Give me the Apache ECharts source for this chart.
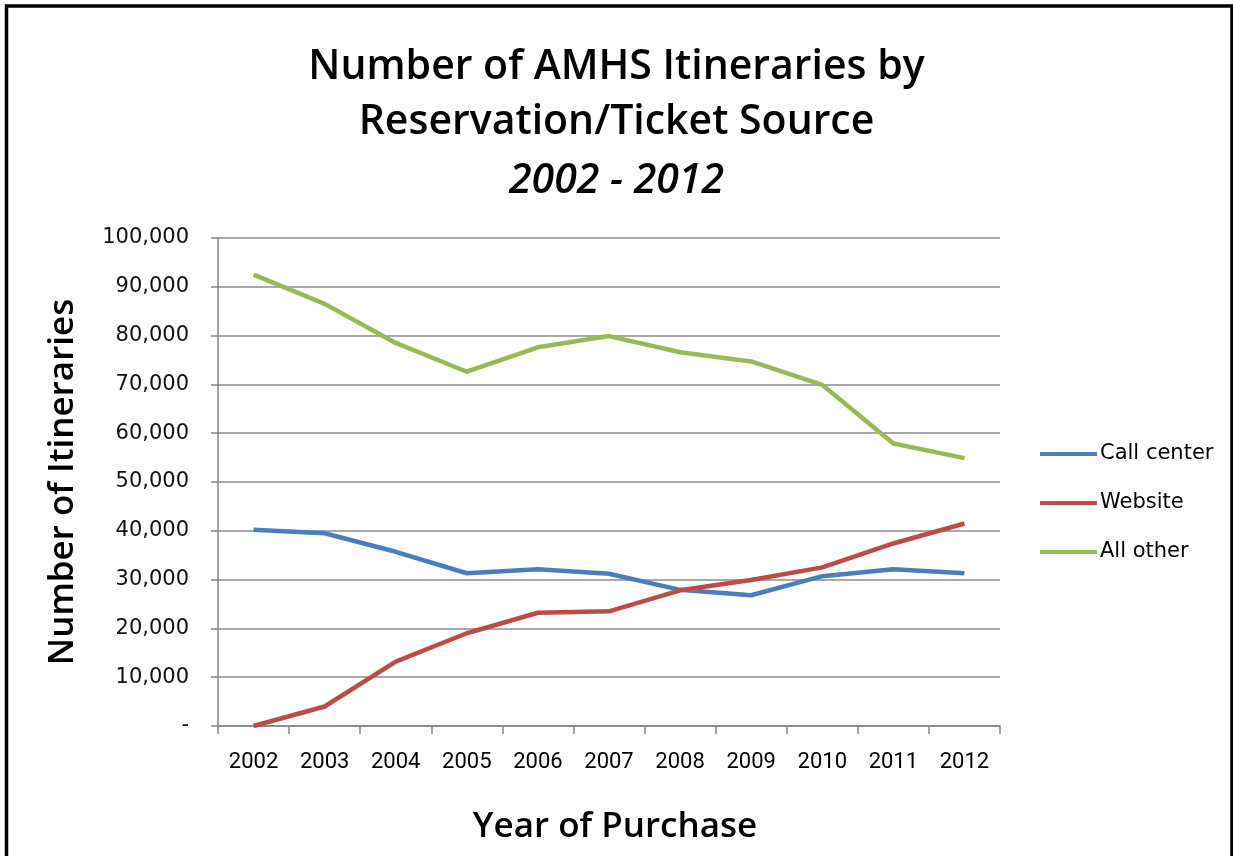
<!DOCTYPE html>
<html>
<head>
<meta charset="utf-8">
<script src="https://cdn.jsdelivr.net/npm/echarts@6/dist/echarts.min.js"></script>
<style>
html,body{margin:0;padding:0;background:#fff;}
#chart{width:1233px;height:856px;}
</style>
</head>
<body>
<div id="chart"></div>
<script>
var years = ['2002','2003','2004','2005','2006','2007','2008','2009','2010','2011','2012'];
var callCenter = [40200, 39500, 35700, 31300, 32100, 31200, 27900, 26800, 30700, 32100, 31300];
var website    = [0, 4000, 13200, 19000, 23200, 23500, 27800, 29900, 32500, 37400, 41500];
var allOther   = [92500, 86500, 78500, 72600, 77600, 79900, 76600, 74700, 69900, 57900, 54900];
var yTickLabels = ['-', '10,000', '20,000', '30,000', '40,000', '50,000', '60,000', '70,000', '80,000', '90,000', '100,000'];
var seriesNames = ['Call center', 'Website', 'All other'];

var chart = echarts.init(document.getElementById('chart'));
var titleFont = {fontFamily: 'Open Sans', fontWeight: 600, fontSize: 41, color: '#000'};
chart.setOption({
  backgroundColor: '#fff',
  animation: false,
  color: ['#4a7ebb', '#be4b48', '#98b954'],
  title: [
    {text: 'Number of AMHS Itineraries by', left: 'center', top: 42, textStyle: titleFont},
    {text: 'Reservation/Ticket Source', left: 'center', top: 97, textStyle: titleFont},
    {text: '2002 - 2012', left: 'center', top: 156, textStyle: Object.assign({}, titleFont, {fontStyle: 'italic'})}
  ],
  graphic: [{
    type: 'rect', silent: true,
    shape: {x: 6.5, y: 6, width: 1225.5, height: 900},
    style: {fill: 'none', stroke: '#000', lineWidth: 3.5}
  }],
  legend: {
    orient: 'vertical', left: 1035, top: 438,
    icon: 'rect', itemWidth: 57, itemHeight: 4, itemGap: 27,
    textStyle: {fontFamily: 'DejaVu Sans', fontSize: 21, color: '#000', lineHeight: 22, padding: [0,0,0,-2]},
    data: seriesNames
  },
  grid: {left: 218, right: 233, top: 238, bottom: 130},
  xAxis: {
    type: 'category', data: years, boundaryGap: true,
    name: 'Year of Purchase', nameLocation: 'middle', nameGap: 84,
    nameTextStyle: {fontFamily: 'Open Sans', fontWeight: 600, fontSize: 35, color: '#000', padding: [0, 0, 0, 12]},
    axisLine: {lineStyle: {color: '#868686', width: 1.5}},
    axisTick: {show: true, length: 8, lineStyle: {color: '#868686', width: 1.5}},
    axisLabel: {fontFamily: 'Roboto', fontSize: 22, color: '#000', margin: 25}
  },
  yAxis: {
    type: 'value', min: 0, max: 100000, interval: 10000,
    name: 'Number of Itineraries', nameLocation: 'middle', nameGap: 137, nameRotate: 90,
    nameTextStyle: {fontFamily: 'Open Sans', fontWeight: 600, fontSize: 35, color: '#000'},
    axisLine: {show: true, lineStyle: {color: '#868686', width: 1.5}},
    axisTick: {show: true, length: 7, lineStyle: {color: '#868686', width: 1.5}},
    splitLine: {lineStyle: {color: '#8c8c8c', width: 1.5}},
    axisLabel: {
      fontFamily: 'DejaVu Sans', fontSize: 21, color: '#111', margin: 29,
      formatter: function (v) { return yTickLabels[Math.round(v / 10000)]; }
    }
  },
  series: [
    {name: seriesNames[0], type: 'line', data: callCenter, symbol: 'none', lineStyle: {width: 4.5, join: 'round'}},
    {name: seriesNames[1], type: 'line', data: website, symbol: 'none', lineStyle: {width: 4.5, join: 'round'}},
    {name: seriesNames[2], type: 'line', data: allOther, symbol: 'none', lineStyle: {width: 4.5, join: 'round'}}
  ]
});
</script>
</body>
</html>
